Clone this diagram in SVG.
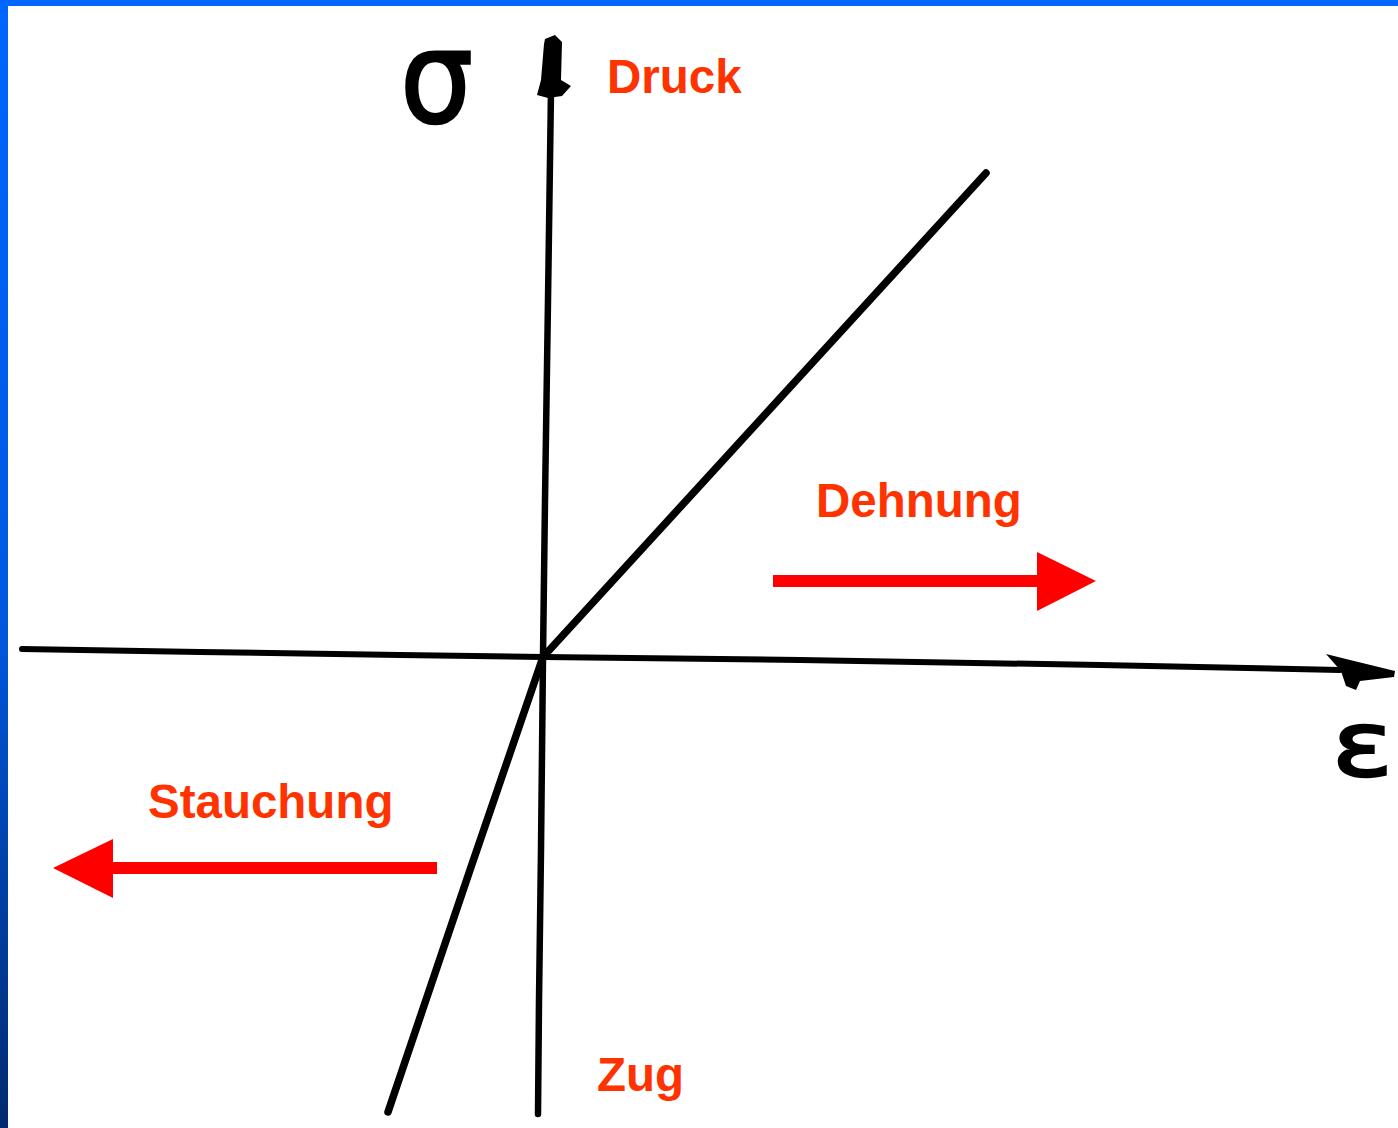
<svg xmlns="http://www.w3.org/2000/svg" width="1398" height="1128" viewBox="0 0 1398 1128">
<defs>
<linearGradient id="lb" x1="0" y1="0" x2="0" y2="1">
<stop offset="0" stop-color="#0066ff"/>
<stop offset="0.55" stop-color="#0058e0"/>
<stop offset="1" stop-color="#002a70"/>
</linearGradient>
<style>
.lbl{font-family:"Liberation Sans",Arial,sans-serif;font-weight:bold;font-size:47.5px;fill:#ff3300}
.sym{font-family:"DejaVu Sans",sans-serif;font-weight:normal;fill:#000;stroke:#000;stroke-width:2.5px}
.ax{fill:none;stroke:#000;stroke-linecap:round;stroke-linejoin:round}
.red{fill:#ff0000}
</style>
</defs>
<rect x="0" y="0" width="1398" height="1128" fill="#ffffff"/>
<rect x="0" y="0" width="1398" height="6" fill="#0066ff"/>
<rect x="0" y="0" width="8" height="1128" fill="url(#lb)"/>
<g id="connectors">
<polyline class="ax" stroke-width="6" points="22,649 200,652 400,655 543,657 800,660 1100,665 1340,670"/>
<polygon id="x-arrowhead" fill="#000" points="1326,654 1346,659 1395,671 1394,677 1360,681 1356,690 1346,686 1341,671"/>
<polyline class="ax" stroke-width="6.5" points="551,90 548,300 545,500 543,657 541,850 539,1000 538,1114"/>
<polygon id="y-arrowhead" fill="#000" points="545,39 555,35 562,42 561,80 571,86 562,96 548,98 537,95 541,80 544,44"/>
<polyline class="ax" stroke-width="7.5" points="986,173 760,420 543,657"/>
<polyline class="ax" stroke-width="7.5" points="543,657 470,870 388,1112"/>
<g id="arrow-dehnung">
<rect class="red" x="773" y="575" width="266" height="12"/>
<polygon class="red" points="1037,552 1096,581 1037,611"/>
</g>
<g id="arrow-stauchung">
<rect class="red" x="111" y="862" width="326" height="12"/>
<polygon class="red" points="113,839 53,868 113,898"/>
</g>
</g>
<g id="sigma"><text class="sym" transform="translate(400,122) scale(0.9,1)" font-size="128">σ</text></g>
<g id="epsilon"><text class="sym" transform="translate(1332,776) scale(1.25,1)" font-size="90">ε</text></g>
<g id="druck"><text class="lbl" x="607" y="93">Druck</text></g>
<g id="dehnung"><text class="lbl" x="816" y="517">Dehnung</text></g>
<g id="stauchung"><text class="lbl" x="148" y="818">Stauchung</text></g>
<g id="zug"><text class="lbl" x="597" y="1091">Zug</text></g>
</svg>
